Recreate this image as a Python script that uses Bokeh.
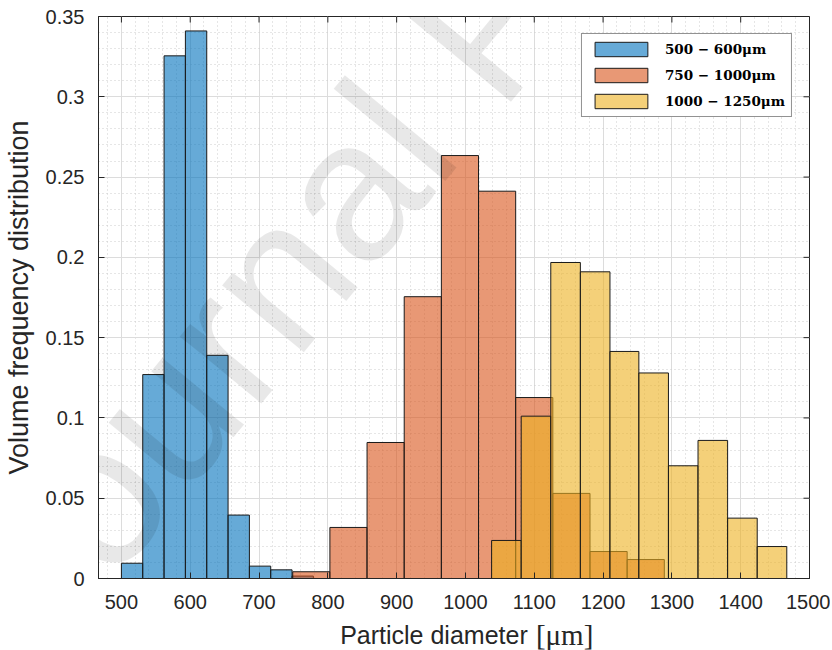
from bokeh.plotting import figure
from bokeh.layouts import column
from bokeh.models import FixedTicker, Legend, LegendItem, Label, Range1d
from bokeh.core.properties import value
from bokeh.embed import file_html
from bokeh.resources import INLINE

# ---- data ----
blue_edges = [500, 531, 562, 593, 624, 655, 686, 717, 748, 779]
blue_vals = [0.0095, 0.127, 0.3255, 0.341, 0.139, 0.0395, 0.0077, 0.0054, 0.0015]
orange_edges = [749, 803, 857, 911, 965, 1019, 1073, 1127, 1181, 1235, 1289]
orange_vals = [0.0042, 0.0318, 0.0847, 0.1755, 0.2634, 0.2412, 0.1127, 0.053, 0.0168, 0.0118]
yellow_edges = [1038, 1081, 1124, 1167, 1210, 1252, 1295, 1338, 1381, 1424, 1467]
yellow_vals = [0.0237, 0.1011, 0.1968, 0.191, 0.1414, 0.128, 0.0702, 0.086, 0.0376, 0.0199]
series_labels = ["500 \u2212 600\u03bcm", "750 \u2212 1000\u03bcm", "1000 \u2212 1250\u03bcm"]
series_colors = ["#0072BD", "#D95319", "#EDB120"]

x_ticks = [500, 600, 700, 800, 900, 1000, 1100, 1200, 1300, 1400, 1500]
x_minor = [480, 520, 540, 560, 580, 620, 640, 660, 680, 720, 740, 760, 780,
           820, 840, 860, 880, 920, 940, 960, 980, 1020, 1040, 1060, 1080,
           1120, 1140, 1160, 1180, 1220, 1240, 1260, 1280, 1320, 1340, 1360,
           1380, 1420, 1440, 1460, 1480]
y_ticks = [0, 0.05, 0.1, 0.15, 0.2, 0.25, 0.3, 0.35]
y_tick_labels = ["0", "0.05", "0.1", "0.15", "0.2", "0.25", "0.3", "0.35"]
y_minor = [0.01, 0.02, 0.03, 0.04, 0.06, 0.07, 0.08, 0.09, 0.11, 0.12, 0.13,
           0.14, 0.16, 0.17, 0.18, 0.19, 0.21, 0.22, 0.23, 0.24, 0.26, 0.27,
           0.28, 0.29, 0.31, 0.32, 0.33, 0.34]
x_title = "Particle diameter"
x_unit = "[\u03bcm]"
y_title = "Volume frequency distribution"
watermark = "Journal Pre-proof"

X0, X1 = 466.7, 1500
Y0, Y1 = 0, 0.35

AX = "#262626"
FONT = "Liberation Sans"
W = 830
FRAME_L, FRAME_R, FRAME_T, FRAME_B = 97, 809, 16, 578
H1 = 614

p = figure(width=W, height=H1, x_range=Range1d(X0, X1), y_range=Range1d(Y0, Y1),
           output_backend="svg", toolbar_location=None,
           min_border_left=FRAME_L, min_border_right=W - FRAME_R,
           min_border_top=FRAME_T, min_border_bottom=H1 - FRAME_B)
p.background_fill_color = "white"
p.border_fill_color = "white"
p.outline_line_color = AX
p.outline_line_width = 1

renderers = []
for edges, vals, col in [(blue_edges, blue_vals, series_colors[0]),
                         (orange_edges, orange_vals, series_colors[1]),
                         (yellow_edges, yellow_vals, series_colors[2])]:
    r = p.quad(left=edges[:-1], right=edges[1:len(vals) + 1], bottom=0, top=vals,
               fill_color=col, fill_alpha=0.6, line_color="#1a1a1a", line_width=1)
    renderers.append(r)

# axes
p.xaxis.ticker = FixedTicker(ticks=x_ticks, minor_ticks=x_minor)
p.yaxis.ticker = FixedTicker(ticks=y_ticks, minor_ticks=y_minor)
p.yaxis.major_label_overrides = {t: l for t, l in zip(y_ticks, y_tick_labels)}
for ax in (p.xaxis[0], p.yaxis[0]):
    ax.major_tick_in = 6
    ax.major_tick_out = 0
    ax.minor_tick_line_color = None
    ax.axis_line_color = AX
    ax.major_tick_line_color = AX
    ax.major_label_text_font = FONT
    ax.major_label_text_font_size = "20px"
    ax.major_label_text_color = AX
p.xaxis.major_label_standoff = 12
p.yaxis.major_label_standoff = 10
p.yaxis.axis_label = y_title
p.yaxis.axis_label_text_font = FONT
p.yaxis.axis_label_text_font_size = "27px"
p.yaxis.axis_label_text_font_style = "normal"
p.yaxis.axis_label_text_color = AX
p.yaxis.axis_label_standoff = 9

# inward ticks on the top and right box edges (MATLAB "box on")
fh = FRAME_B - FRAME_T
fw = FRAME_R - FRAME_L
dy = (Y1 - Y0) * 6 / fh
dx = (X1 - X0) * 6 / fw
p.segment(x0=x_ticks, x1=x_ticks, y0=[Y1] * len(x_ticks), y1=[Y1 - dy] * len(x_ticks),
          line_color=AX, line_width=1)
p.segment(x0=[X1] * len(y_ticks), x1=[X1 - dx] * len(y_ticks), y0=y_ticks, y1=y_ticks,
          line_color=AX, line_width=1)

# grids
for g in (p.xgrid[0], p.ygrid[0]):
    g.grid_line_color = "#dcdcdc"
    g.grid_line_width = 1
    g.minor_grid_line_color = "#cccccc"
    g.minor_grid_line_dash = "1 3"
    g.minor_grid_line_width = 1

legend = Legend(items=[LegendItem(label=l, renderers=[r]) for l, r in zip(series_labels, renderers)],
                location="top_right", margin=17, padding=6, spacing=8,
                glyph_width=66, glyph_height=18, label_height=18, label_standoff=11,
                label_text_font="DejaVu Serif", label_text_font_style="bold",
                label_text_font_size="13.5px", label_text_color="black",
                border_line_color=AX, border_line_width=1,
                background_fill_color="white", background_fill_alpha=1)
p.add_layout(legend)

# faint journal watermark
p.add_layout(Label(x=-105, y=-40, x_units="screen", y_units="screen", text=watermark,
                   angle=0.88, text_font=FONT, text_font_size="200px",
                   text_color="black", text_alpha=0.09, text_baseline="alphabetic"))

# x-axis title strip (sans-serif words + serif unit); its frame is aligned with p's frame
H2 = 36
p2 = figure(width=W, height=H2, x_range=Range1d(FRAME_L, FRAME_R), y_range=Range1d(0, H2),
            output_backend="svg", toolbar_location=None, title=None,
            min_border_left=0, min_border_right=0, min_border_top=0, min_border_bottom=0)
p2.axis.visible = False
p2.grid.visible = False
p2.outline_line_color = None
p2.background_fill_color = "white"
p2.border_fill_color = "white"
p2.text(x=[339], y=[16], text=[x_title], text_font=value(FONT), text_font_size=value("25px"),
        text_color=AX, text_baseline=value("alphabetic"), text_align=value("left"))
p2.text(x=[535], y=[16], text=[x_unit], text_font=value("Liberation Serif"),
        text_font_size=value("29px"), text_color=AX, text_baseline=value("alphabetic"),
        text_align=value("left"))

layout = column(p, p2, spacing=0)
open("out.html", "w").write(file_html(layout, INLINE))
